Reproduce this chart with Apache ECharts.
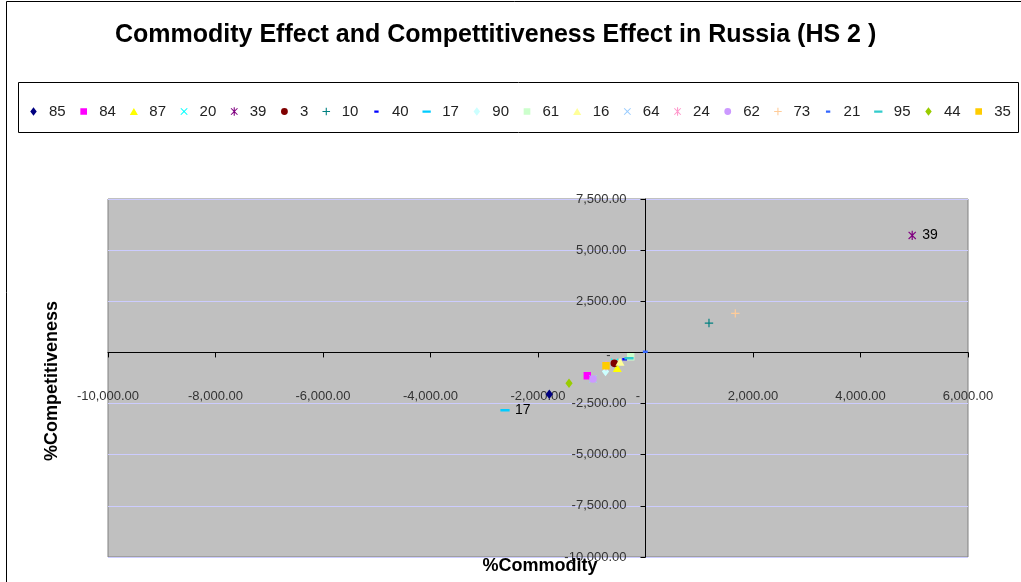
<!DOCTYPE html>
<html>
<head>
<meta charset="utf-8">
<script src="https://cdn.jsdelivr.net/npm/echarts@6/dist/echarts.min.js"></script>
<style>
  html, body { margin: 0; padding: 0; background: #fff; }
  #chart { width: 1021px; height: 582px; }
</style>
</head>
<body>
<div id="chart"></div>
<script>
// HS 2 chapters, in legend order
const chapters = ['85', '84', '87', '20', '39', '3', '10', '40', '17', '90',
                  '61', '16', '64', '24', '62', '73', '21', '95', '44', '35'];
// % commodity effect (x)
const commodity = [-1790, -1083, -525, -575, 4962, -580, 1181, -387, -2614, -744,
                   -275, -474, -977, -735, -977, 1671, -4, -307, -1423, -735];
// % competitiveness effect (y)
const competitiveness = [-2048, -1139, -763, -480, 5720, -533, 1437, -337, -2830, -934,
                         -210, -455, -1300, -650, -1300, 1911, 34, -288, -1510, -650];
// chapters whose code is written beside the marker
const labelled = ['39', '17'];

const xTicks = { min: -10000, max: 6000, step: 2000 };
const yTicks = { min: -10000, max: 7500, step: 2500 };

// plot rectangle inside the 1021x582 canvas
const plot = { left: 108, right: 53, top: 199, bottom: 25 };
const plotW = 1021 - plot.left - plot.right;
const plotH = 582 - plot.top - plot.bottom;
// the axes cross at (0, 0): shift each axis from the plot edge to the zero line
const yAxisShift = -plotW * (0 - xTicks.min) / (xTicks.max - xTicks.min);
const xAxisShift = -plotH * (0 - yTicks.min) / (yTicks.max - yTicks.min);

// marker shapes, drawn in a 10x10 box (the leading corner moves fix the box)
const box = 'M0,0ZM10,10Z';
const shapes = {
  diamond: 'M5,0.3L8.6,5L5,9.7L1.4,5Z',
  square: 'M1.3,1.3H8.7V8.7H1.3Z',
  triangle: 'M5,1L9.5,9H0.5Z',
  cross: 'M1,1.8L1.8,1L5,4.2L8.2,1L9,1.8L5.8,5L9,8.2L8.2,9L5,5.8L1.8,9L1,8.2L4.2,5Z',
  star: 'M1,1.8L1.8,1L5,4.2L8.2,1L9,1.8L5.8,5L9,8.2L8.2,9L5,5.8L1.8,9L1,8.2L4.2,5ZM4.4,0.3H5.6V9.7H4.4Z',
  circle: 'M1.2,5A3.8,3.8,0,1,1,8.8,5A3.8,3.8,0,1,1,1.2,5Z',
  plus: 'M4.4,0.8H5.6V4.4H9.2V5.6H5.6V9.2H4.4V5.6H0.8V4.4H4.4Z',
  dash: 'M2.6,3.8H7.4V6.3H2.6Z',
  longDash: 'M0.4,3.8H9.6V6.3H0.4Z'
};
const markerShape = ['diamond', 'square', 'triangle', 'cross', 'star', 'circle', 'plus', 'dash', 'longDash', 'diamond',
                     'square', 'triangle', 'cross', 'star', 'circle', 'plus', 'dash', 'longDash', 'diamond', 'square'];
const markerColor = ['#000080', '#FF00FF', '#FFFF00', '#00FFFF', '#800080', '#800000', '#008080', '#0000FF', '#00CCFF', '#CCFFFF',
                     '#CCFFCC', '#FFFF99', '#99CCFF', '#FF99CC', '#CC99FF', '#FFCC99', '#3366FF', '#33CCCC', '#99CC00', '#FFCC00'];

const FONT = '"Liberation Sans", Arial, sans-serif';

// accounting-style numbers: 1,234.00 and a padded dash for zero
function fmt(v) {
  if (v === 0) return '{z|-}';
  const neg = v < 0;
  const parts = Math.abs(v).toFixed(2).split('.');
  const int = parts[0].replace(/\B(?=(\d{3})+(?!\d))/g, ',');
  return (neg ? '-' : '') + int + '.' + parts[1];
}

const series = chapters.map((name, i) => ({
  name: name,
  type: 'scatter',
  symbol: 'path://' + box + shapes[markerShape[i]],
  symbolSize: 10,
  itemStyle: { color: markerColor[i], opacity: 1 },
  data: [[commodity[i], competitiveness[i]]],
  label: {
    show: labelled.indexOf(name) >= 0,
    position: 'right',
    distance: 5,
    formatter: name,
    fontFamily: FONT,
    fontSize: 14,
    color: '#000'
  },
  emphasis: { disabled: true },
  z: 3 + i * 0.01
}));

const chart = echarts.init(document.getElementById('chart'), null, { renderer: 'canvas' });
chart.setOption({
  animation: false,
  backgroundColor: '#fff',
  title: {
    text: 'Commodity Effect and Compettitiveness Effect in Russia (HS 2 )',
    left: 110,
    top: 18,
    textStyle: { fontFamily: FONT, fontWeight: 'bold', fontSize: 25, color: '#000' }
  },
  legend: {
    data: chapters,
    left: 24,
    top: 99,
    itemWidth: 9,
    itemHeight: 9,
    itemGap: 13.5,
    selectedMode: false,
    textStyle: { fontFamily: FONT, fontSize: 15, color: '#222', padding: [0, 0, 0, 6] }
  },
  grid: {
    left: plot.left, right: plot.right, top: plot.top, bottom: plot.bottom,
    containLabel: false,
    outerBoundsMode: 'none',
    show: true,
    backgroundColor: '#C0C0C0',
    borderColor: '#808080',
    borderWidth: 1
  },
  xAxis: {
    type: 'value',
    position: 'bottom',
    offset: xAxisShift,
    min: xTicks.min, max: xTicks.max, interval: xTicks.step,
    axisLine: { onZero: false, lineStyle: { color: '#000', width: 1 } },
    axisTick: { show: true, inside: false, length: 5, lineStyle: { color: '#000' } },
    axisLabel: {
      margin: 37, fontFamily: FONT, fontSize: 13, color: '#333',
      formatter: fmt,
      rich: { z: { fontFamily: FONT, fontSize: 13, color: '#333', padding: [0, 15, 0, 0] } }
    },
    splitLine: { show: false }
  },
  yAxis: {
    type: 'value',
    position: 'left',
    offset: yAxisShift,
    min: yTicks.min, max: yTicks.max, interval: yTicks.step,
    axisLine: { onZero: false, lineStyle: { color: '#000', width: 1 } },
    axisTick: { show: true, inside: false, length: 5, lineStyle: { color: '#000' } },
    axisLabel: {
      margin: 19, fontFamily: FONT, fontSize: 13, color: '#333',
      formatter: fmt,
      rich: { z: { fontFamily: FONT, fontSize: 13, color: '#333', padding: [5, 16, 0, 0] } }
    },
    splitLine: { show: true, lineStyle: { color: '#CCCCFF', width: 1 } }
  },
  graphic: [
    {
      type: 'rect', silent: true, z: -10,
      shape: { x: 6.5, y: 1.5, width: 1100, height: 1000 },
      style: { fill: 'none', stroke: '#000', lineWidth: 1 }
    },
    {
      type: 'rect', silent: true, z: -5,
      shape: { x: 18.5, y: 82.5, width: 1000, height: 50 },
      style: { fill: 'none', stroke: '#000', lineWidth: 1 }
    },
    {
      type: 'text', silent: true, z: 20,
      x: 540, y: 566,
      style: {
        text: '%Commodity', fontFamily: FONT, fontWeight: 'bold', fontSize: 18,
        fill: '#000', align: 'center', verticalAlign: 'middle'
      }
    },
    {
      type: 'text', silent: true, z: 20,
      x: 52, y: 381, rotation: Math.PI / 2,
      style: {
        text: '%Competitiveness', fontFamily: FONT, fontWeight: 'bold', fontSize: 18,
        fill: '#000', align: 'center', verticalAlign: 'middle'
      }
    }
  ],
  series: series
});
</script>
</body>
</html>
